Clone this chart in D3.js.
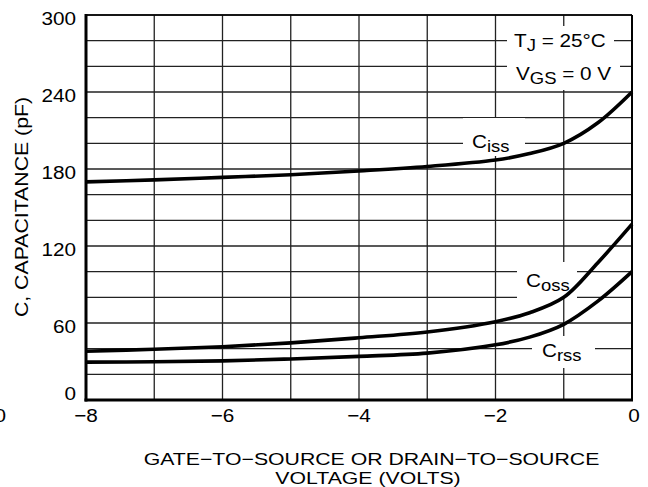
<!DOCTYPE html>
<html><head><meta charset="utf-8">
<script src="https://cdn.jsdelivr.net/npm/d3@7"></script>
<style>body{margin:0;background:#fff}svg text{font-family:"Liberation Sans",Arial,sans-serif;fill:#000}</style>
</head><body>
<svg id="c" width="648" height="487"></svg>
<script>
const xTicks = [-8, -6, -4, -2, 0];
const yTicks = [0, 60, 120, 180, 240, 300];
const vgs = [-8, -7, -6, -5, -4, -3, -2, -1.5, -1, -0.5, 0];
const ciss = [170, 171.5, 173.5, 175.5, 178.5, 182, 187, 192, 200, 216, 240];
const coss = [38, 39.5, 41.5, 44.5, 48.5, 53, 61, 68, 80, 107, 137];
const crss = [29.5, 29.8, 30.5, 32, 34, 36.5, 43, 49, 59, 77, 100];

const svg = d3.select("#c");
const L = 86, R = 632, T = 15, B = 400;
const x = d3.scaleLinear().domain([-8, 0]).range([L, R]);
const y = d3.scaleLinear().domain([0, 300]).range([B, T]);
const SX = 1.12, FS = 18.5;

const g = svg.append("g");
g.selectAll(".vg").data(d3.range(-8, 0.01, 1)).enter().append("line")
  .attr("x1", d => x(d)).attr("x2", d => x(d)).attr("y1", T).attr("y2", B)
  .attr("stroke", "#222").attr("stroke-width", 1.3);
g.selectAll(".hg").data(d3.range(0, 300.1, 20)).enter().append("line")
  .attr("y1", d => y(d)).attr("y2", d => y(d)).attr("x1", L).attr("x2", R)
  .attr("stroke", "#222").attr("stroke-width", 1.3);
g.append("line").attr("x1", L).attr("x2", L).attr("y1", T - 1).attr("y2", B + 1.5).attr("stroke", "#000").attr("stroke-width", 3);
g.append("line").attr("x1", L - 1.5).attr("x2", R + 1).attr("y1", B).attr("y2", B).attr("stroke", "#000").attr("stroke-width", 3);
g.append("line").attr("x1", R).attr("x2", R).attr("y1", T).attr("y2", B).attr("stroke", "#000").attr("stroke-width", 2);
g.append("line").attr("x1", L).attr("x2", R).attr("y1", T).attr("y2", T).attr("stroke", "#000").attr("stroke-width", 1.6);

const bgs = [[507, 26, 107, 28], [507, 54, 113, 36], [463, 118, 62, 38], [517, 262, 60, 36], [532, 336, 63, 32]];
g.selectAll(".bg").data(bgs).enter().append("rect")
  .attr("x", d => d[0]).attr("y", d => d[1]).attr("width", d => d[2]).attr("height", d => d[3]).attr("fill", "#fff");

const line = d3.line().x(d => x(d[0])).y(d => y(d[1])).curve(d3.curveCatmullRom.alpha(0.5));
[ciss, coss, crss].forEach(s => {
  g.append("path").attr("d", line(vgs.map((v, i) => [v, s[i]])))
    .attr("fill", "none").attr("stroke", "#000").attr("stroke-width", 3.6);
});

function txt(xp, yp, str, anchor, fs, rot, sx) {
  const gg = svg.append("g").attr("transform", `translate(${xp},${yp})` + (rot ? ` rotate(${rot})` : "") + ` scale(${sx || SX},1)`);
  return gg.append("text").attr("text-anchor", anchor || "start").attr("font-size", fs || FS).text(str);
}
yTicks.forEach(d => txt(76, y(d) + (d === 0 ? 0 : 9.7), d, "end"));
xTicks.forEach(d => txt(x(d) + (d === 0 ? 2 : 0), 421.5, d === 0 ? "0" : "\u2212" + Math.abs(d), "middle"));
txt(6, 421.5, "0", "end");

txt(28, 207, "C, CAPACITANCE (pF)", "middle", 19, -90);
txt(371.5, 464.5, "GATE\u2212TO\u2212SOURCE OR DRAIN\u2212TO\u2212SOURCE", "middle", 17, 0, 1.25);
txt(368, 483.5, "VOLTAGE (VOLTS)", "middle", 17, 0, 1.25);

function sub(xp, yp, main, s, rest) {
  const t = txt(xp, yp, "", "start");
  t.append("tspan").text(main);
  t.append("tspan").attr("dy", 4).attr("font-size", 16.5).text(s);
  if (rest) t.append("tspan").attr("dy", -4).text(rest);
}
sub(514, 46.5, "T", "J", " = 25\u00B0C");
sub(516, 80, "V", "GS", " = 0 V");
sub(472, 148, "C", "iss");
sub(526, 286.5, "C", "oss");
sub(542, 356.5, "C", "rss");
</script>
</body></html>
